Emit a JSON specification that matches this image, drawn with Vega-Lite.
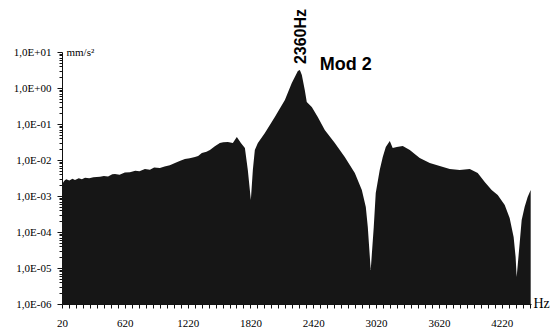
{
  "$schema": "https://vega.github.io/schema/vega-lite/v6.json",
  "width": 469,
  "height": 252,
  "autosize": {"type": "none"},
  "padding": {"left": 62, "top": 52, "right": 24, "bottom": 25},
  "background": "white",
  "config": {"view": {"stroke": null}, "font": "Liberation Serif"},
  "datasets": {
    "spectrum": [
      {"hz": 20, "amp": 0.0021}, {"hz": 40, "amp": 0.0026}, {"hz": 60, "amp": 0.0029}, {"hz": 90, "amp": 0.0027},
      {"hz": 120, "amp": 0.003}, {"hz": 144, "amp": 0.0028}, {"hz": 180, "amp": 0.0031}, {"hz": 210, "amp": 0.0029},
      {"hz": 240, "amp": 0.0032}, {"hz": 280, "amp": 0.0031}, {"hz": 320, "amp": 0.0033}, {"hz": 383, "amp": 0.0034},
      {"hz": 420, "amp": 0.0036}, {"hz": 460, "amp": 0.0035}, {"hz": 500, "amp": 0.004}, {"hz": 526, "amp": 0.0041},
      {"hz": 570, "amp": 0.0039}, {"hz": 620, "amp": 0.0045}, {"hz": 669, "amp": 0.0046}, {"hz": 720, "amp": 0.005},
      {"hz": 760, "amp": 0.0049}, {"hz": 812, "amp": 0.0056}, {"hz": 860, "amp": 0.0054}, {"hz": 900, "amp": 0.0062},
      {"hz": 955, "amp": 0.006}, {"hz": 1000, "amp": 0.0066}, {"hz": 1050, "amp": 0.0072}, {"hz": 1099, "amp": 0.0083},
      {"hz": 1150, "amp": 0.0095}, {"hz": 1194, "amp": 0.0107}, {"hz": 1240, "amp": 0.0112}, {"hz": 1290, "amp": 0.0121},
      {"hz": 1320, "amp": 0.013}, {"hz": 1356, "amp": 0.0156}, {"hz": 1400, "amp": 0.017}, {"hz": 1433, "amp": 0.019},
      {"hz": 1480, "amp": 0.024}, {"hz": 1528, "amp": 0.0297}, {"hz": 1560, "amp": 0.031}, {"hz": 1604, "amp": 0.0316},
      {"hz": 1652, "amp": 0.0297}, {"hz": 1690, "amp": 0.0435}, {"hz": 1729, "amp": 0.0297}, {"hz": 1767, "amp": 0.0216},
      {"hz": 1795, "amp": 0.0053}, {"hz": 1824, "amp": 0.00077}, {"hz": 1843, "amp": 0.0053}, {"hz": 1862, "amp": 0.019},
      {"hz": 1891, "amp": 0.0297}, {"hz": 1958, "amp": 0.0562}, {"hz": 2053, "amp": 0.156}, {"hz": 2149, "amp": 0.464},
      {"hz": 2215, "amp": 1.38}, {"hz": 2273, "amp": 2.97}, {"hz": 2292, "amp": 3.16}, {"hz": 2311, "amp": 2.3},
      {"hz": 2339, "amp": 0.88}, {"hz": 2358, "amp": 0.408}, {"hz": 2406, "amp": 0.297}, {"hz": 2463, "amp": 0.156},
      {"hz": 2530, "amp": 0.0681}, {"hz": 2626, "amp": 0.0297}, {"hz": 2721, "amp": 0.0121}, {"hz": 2817, "amp": 0.00435},
      {"hz": 2884, "amp": 0.00147}, {"hz": 2922, "amp": 0.000495}, {"hz": 2941, "amp": 0.000138}, {"hz": 2969, "amp": 0.0000088},
      {"hz": 2998, "amp": 0.000138}, {"hz": 3017, "amp": 0.00121}, {"hz": 3055, "amp": 0.00527}, {"hz": 3084, "amp": 0.0121},
      {"hz": 3113, "amp": 0.023}, {"hz": 3151, "amp": 0.0337}, {"hz": 3179, "amp": 0.0216}, {"hz": 3218, "amp": 0.023},
      {"hz": 3275, "amp": 0.0245}, {"hz": 3342, "amp": 0.019}, {"hz": 3437, "amp": 0.0114}, {"hz": 3533, "amp": 0.00825},
      {"hz": 3628, "amp": 0.00681}, {"hz": 3724, "amp": 0.00562}, {"hz": 3819, "amp": 0.00527}, {"hz": 3915, "amp": 0.00562},
      {"hz": 3991, "amp": 0.00435}, {"hz": 4058, "amp": 0.00245}, {"hz": 4124, "amp": 0.00147}, {"hz": 4182, "amp": 0.00107},
      {"hz": 4249, "amp": 0.000562}, {"hz": 4296, "amp": 0.000245}, {"hz": 4334, "amp": 0.0000726}, {"hz": 4353, "amp": 0.0000202},
      {"hz": 4363, "amp": 0.0000056}, {"hz": 4392, "amp": 0.0000495}, {"hz": 4411, "amp": 0.000216}, {"hz": 4439, "amp": 0.000495},
      {"hz": 4468, "amp": 0.000938}, {"hz": 4497, "amp": 0.00147}
    ]
  },
  "resolve": {"axis": {"y": "independent", "x": "independent"}},
  "layer": [
    {
      "data": {"name": "spectrum"},
      "mark": {"type": "area", "color": "#161616", "interpolate": "linear"},
      "encoding": {
        "x": {
          "field": "hz", "type": "quantitative",
          "scale": {"domain": [20, 4500], "nice": false, "zero": false},
          "axis": {
            "title": "Hz", "titleFont": "Liberation Serif", "titleFontSize": 14, "titleFontWeight": "normal",
            "titleColor": "black", "titleAlign": "left", "titleBaseline": "middle", "titleAngle": 0,
            "titleX": 471, "titleY": -1,
            "values": [20, 86.67, 153.33, 220, 286.67, 353.33, 420, 486.67, 553.33, 620, 686.67, 753.33, 820, 886.67, 953.33, 1020, 1086.67, 1153.33, 1220, 1286.67, 1353.33, 1420, 1486.67, 1553.33, 1620, 1686.67, 1753.33, 1820, 1886.67, 1953.33, 2020, 2086.67, 2153.33, 2220, 2286.67, 2353.33, 2420, 2486.67, 2553.33, 2620, 2686.67, 2753.33, 2820, 2886.67, 2953.33, 3020, 3086.67, 3153.33, 3220, 3286.67, 3353.33, 3420, 3486.67, 3553.33, 3620, 3686.67, 3753.33, 3820, 3886.67, 3953.33, 4020, 4086.67, 4153.33, 4220, 4286.67, 4353.33, 4420, 4486.67],
            "labelExpr": "abs((datum.value-20)/600 - round((datum.value-20)/600)) < 0.01 ? format(datum.value, 'd') : ''",
            "labelFont": "Liberation Serif", "labelFontSize": 11, "labelColor": "black",
            "labelPadding": 9, "labelOverlap": false, "labelFlush": false, "labelBound": false,
            "tickSize": 4, "tickColor": "#111", "tickWidth": 1,
            "domainColor": "#111", "domainWidth": 1, "grid": false
          }
        },
        "y": {
          "field": "amp", "type": "quantitative",
          "scale": {"type": "log", "domain": [0.000001, 10], "nice": false},
          "axis": {
            "orient": "left",
            "title": "mm/s²", "titleFont": "Liberation Serif", "titleFontSize": 11, "titleFontWeight": "normal",
            "titleColor": "black", "titleAngle": 0, "titleAlign": "left", "titleBaseline": "middle",
            "titleX": 4, "titleY": 0,
            "values": [0.000001, 0.000002, 0.000003, 0.000004, 0.000005, 0.000006, 0.000007, 0.000008, 0.000009,
                       0.00001, 0.00002, 0.00003, 0.00004, 0.00005, 0.00006, 0.00007, 0.00008, 0.00009,
                       0.0001, 0.0002, 0.0003, 0.0004, 0.0005, 0.0006, 0.0007, 0.0008, 0.0009,
                       0.001, 0.002, 0.003, 0.004, 0.005, 0.006, 0.007, 0.008, 0.009,
                       0.01, 0.02, 0.03, 0.04, 0.05, 0.06, 0.07, 0.08, 0.09,
                       0.1, 0.2, 0.3, 0.4, 0.5, 0.6, 0.7, 0.8, 0.9,
                       1, 2, 3, 4, 5, 6, 7, 8, 9, 10],
            "labelExpr": "abs(log(datum.value)/LN10 - round(log(datum.value)/LN10)) < 0.001 ? '1,0E' + (round(log(datum.value)/LN10) >= 0 ? '+' : '-') + '0' + abs(round(log(datum.value)/LN10)) : ''",
            "labelFont": "Liberation Serif", "labelFontSize": 11, "labelColor": "black",
            "labelPadding": 6, "labelOverlap": false, "labelFlush": false, "labelBound": false,
            "tickSize": {"condition": {"test": "abs(log(datum.value)/LN10 - round(log(datum.value)/LN10)) < 0.001", "value": 5}, "value": 3},
            "tickColor": "#111", "tickWidth": 1, "domainColor": "#111", "grid": false
          }
        },
        "y2": {"datum": 0.000001}
      }
    },
    {
      "data": {"values": [{"label": "2360Hz", "hz": 2301, "amp": 26.9}]},
      "mark": {"type": "text", "angle": 270, "align": "center", "baseline": "middle", "font": "Liberation Sans", "fontWeight": "bold", "fontSize": 16, "color": "black"},
      "encoding": {
        "x": {"field": "hz", "type": "quantitative", "scale": {"domain": [20, 4500], "nice": false, "zero": false}, "axis": null},
        "y": {"field": "amp", "type": "quantitative", "scale": {"type": "log", "domain": [0.000001, 10], "nice": false}, "axis": null},
        "text": {"field": "label"}
      }
    },
    {
      "data": {"values": [{"label": "Mod 2", "hz": 2483, "amp": 4.35}]},
      "mark": {"type": "text", "align": "left", "baseline": "middle", "font": "Liberation Sans", "fontWeight": "bold", "fontSize": 18, "color": "black"},
      "encoding": {
        "x": {"field": "hz", "type": "quantitative", "scale": {"domain": [20, 4500], "nice": false, "zero": false}, "axis": null},
        "y": {"field": "amp", "type": "quantitative", "scale": {"type": "log", "domain": [0.000001, 10], "nice": false}, "axis": null},
        "text": {"field": "label"}
      }
    }
  ]
}
